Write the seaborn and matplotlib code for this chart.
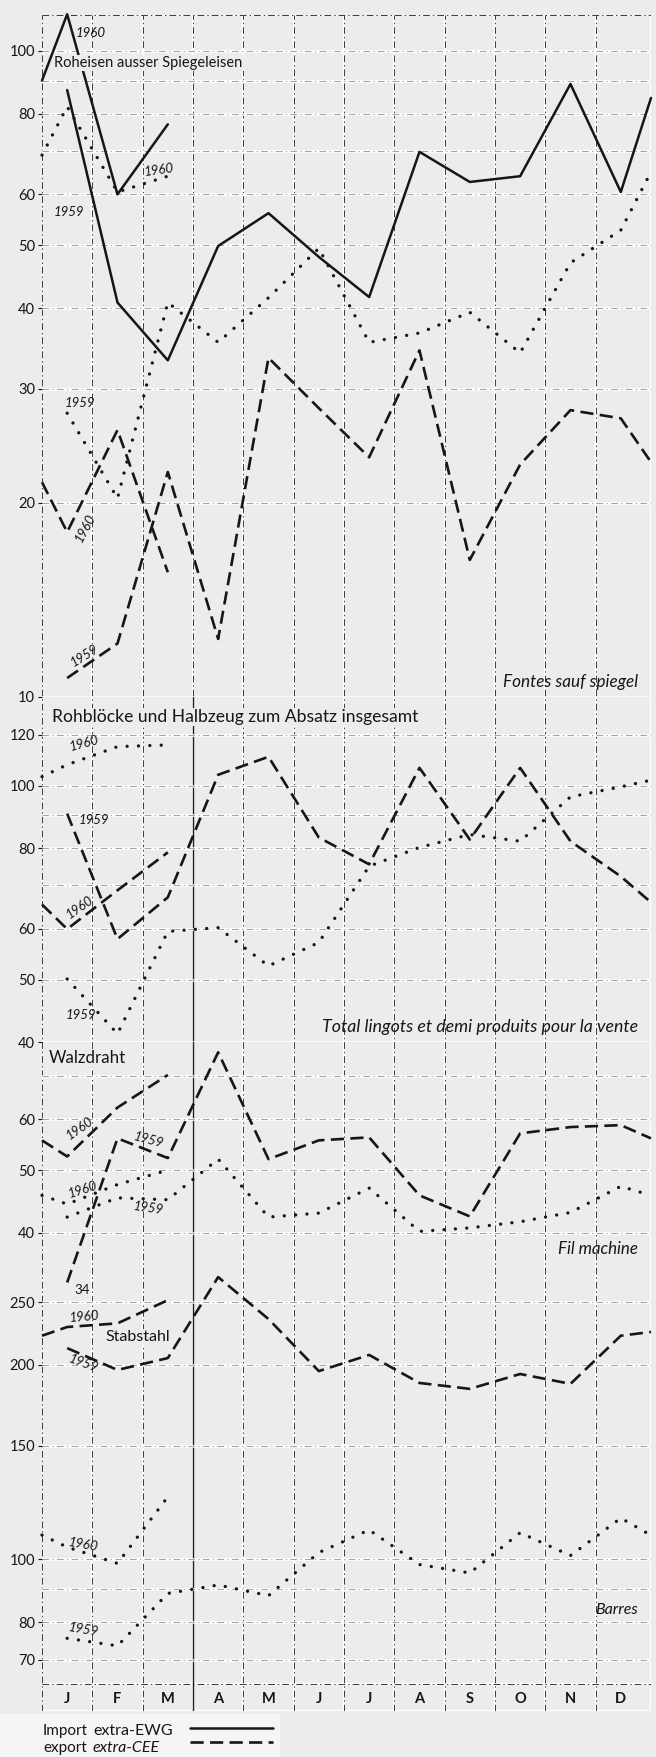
import numpy as np
import pandas as pd
import matplotlib
matplotlib.use("Agg")
import matplotlib.pyplot as plt
import seaborn as sns
from matplotlib.lines import Line2D
from matplotlib.ticker import NullLocator, NullFormatter

# ---------------- data ----------------
months = ["J", "F", "M", "A", "M", "J", "J", "A", "S", "O", "N", "D"]

# Panel 1 : Roheisen ausser Spiegeleisen / Fontes sauf spiegel
roh_solid_1959 = [87, 40.8, 33.2, 49.9, 56.1, 48, 41.6, 69.8, 62.7, 64.0, 88.9, 60.5]
roh_solid_1959_end = 84.6
roh_solid_1960 = [114, 60, 77]
roh_solid_1960_start = 90
roh_dot_1959 = [27.5, 20.3, 40.8, 35.4, 41.5, 49.5, 35.4, 36.6, 39.4, 34.1, 47.0, 52.8]
roh_dot_1959_end = 65
roh_dot_1960 = [82, 60.5, 64]
roh_dot_1960_start = 69
roh_dash_1959 = [10.7, 12.1, 22.3, 12.3, 33.5, 28, 23.5, 34.4, 16.3, 22.9, 27.8, 27.0]
roh_dash_1959_end = 23.1
roh_dash_1960 = [18.0, 25.9, 15.6]
roh_dash_1960_start = 21.5

# Panel 2 : Rohbloecke und Halbzeug
blk_dot_1959 = [50.1, 41.2, 59.4, 60.2, 52.5, 57.1, 75.0, 80.2, 84.0, 82.0, 96.1, 99.6]
blk_dot_1959_end = 102
blk_dot_1960 = [107.8, 115, 115.7]
blk_dot_1960_start = 103.3
blk_dash_1959 = [90.5, 57.8, 67.1, 104, 110.9, 83.1, 75.5, 106.6, 82.5, 106.6, 82.0, 72.3]
blk_dash_1959_end = 65.9
blk_dash_1960 = [59.9, 68.8, 78.8]
blk_dash_1960_start = 65.4

# Panel 3 : Walzdraht / Fil machine
wire_dash_1959 = [33.5, 56.0, 52.2, 76.1, 52.0, 55.6, 56.2, 45.7, 42.4, 57.0, 58.3, 58.7]
wire_dash_1959_end = 56.0
wire_dash_1960 = [52.5, 62.5, 70.2]
wire_dash_1960_start = 55.6
wire_dot_1959 = [42.3, 45.3, 45.0, 52.0, 42.3, 42.9, 46.9, 40.2, 40.7, 41.6, 43.0, 47.2]
wire_dot_1959_end = 45.7
wire_dot_1960 = [44.3, 47.5, 50.0]
wire_dot_1960_start = 45.7

# Panel 4 : Stabstahl / Barres
bar_dash_1959 = [212.4, 196.5, 205, 273.6, 235.6, 195.7, 207.3, 187.6, 183.7, 193.7, 187, 222]
bar_dash_1959_end = 225
bar_dash_1960 = [229, 232, 252]
bar_dash_1960_start = 222
bar_dot_1959 = [75.5, 73.5, 88.6, 91.3, 87.9, 102.5, 111.1, 98.2, 95.3, 110.0, 101.4, 115.9]
bar_dot_1959_end = 109
bar_dot_1960 = [104.5, 98.6, 125]
bar_dot_1960_start = 109.1

p1_ticks = [10, 20, 30, 40, 50, 60, 80, 100]
p2_ticks = [40, 50, 60, 80, 100, 120]
p3_ticks = [40, 50, 60]
p4_ticks = [70, 80, 100, 150, 200, 250]

# ---------------- style ----------------
sns.set_theme(style="white")
plt.rcParams["font.family"] = ["Lato", "DejaVu Sans"]

W, H = 656, 1757
BG = "#ececec"
INK = "#161616"
X0, X1 = 42, 651
DEC = 646.0          # pixels per decade on every log panel
XL = (-0.5, 11.6)
X_START, X_END = XL

fig = plt.figure(figsize=(W / 100, H / 100), dpi=100)
fig.patch.set_facecolor(BG)


def fx(x):
    return x / W


def fy(y):
    return 1 - y / H


# lighter paper area under the chart on the left (scan look)
fig.patches.append(plt.Rectangle((0, 0), fx(280), fy(1714),
                                 transform=fig.transFigure, facecolor="#f5f5f5",
                                 edgecolor="none", zorder=-5))

# background axes for month separators / frame lines
bg = fig.add_axes([fx(X0), fy(1711), (X1 - X0) / W, (1711 - 15) / H], zorder=0)
bg.set_xlim(*XL)
bg.set_ylim(0, 1)
bg.axis("off")
bg.patch.set_alpha(0)


def by(y):
    return (1711 - y) / (1711 - 15)


vlines = [-0.5 + i for i in range(12)] + [X_END]
for xv in vlines:
    bg.axvline(xv, color="white", lw=1.6, zorder=1)
    bg.axvline(xv, color="#3a3a3a", lw=0.7, ls=(0, (7, 3, 1.5, 3)), zorder=2)
# solid separator between the first quarter and the rest
bg.axvline(2.5, ymin=0, ymax=by(697), color="#1e1e1e", lw=1.0, zorder=3)
for yy in [15, 1684, 1711]:
    bg.axhline(by(yy), color="white", lw=1.6, zorder=1)
    bg.axhline(by(yy), color="#3a3a3a", lw=0.7, ls=(0, (7, 3, 1.5, 3)), zorder=2)
for i, m in enumerate(months):
    bg.text(i, by(1699), m, ha="center", va="center",
            fontsize=10.5, fontweight="bold", color=INK)


def make_panel(ytop, ybot, anchor_val, anchor_px, grid, ticks):
    ax = fig.add_axes([fx(X0), fy(ybot), (X1 - X0) / W, (ybot - ytop) / H], zorder=2)
    ax.set_yscale("log")
    lo = anchor_val * 10 ** ((anchor_px - ybot) / DEC)
    hi = anchor_val * 10 ** ((anchor_px - ytop) / DEC)
    ax.set_ylim(lo, hi)
    ax.set_xlim(*XL)
    ax.patch.set_alpha(0)
    for s in ax.spines.values():
        s.set_visible(False)
    ax.set_xticks([])
    for g in grid:
        ax.axhline(g, color="white", lw=1.8, zorder=0.5)
        ax.axhline(g, color="#3a3a3a", lw=0.6, ls=(0, (8, 4, 1.5, 4)), alpha=0.55, zorder=0.6)
    ax.set_yticks(ticks)
    ax.set_yticklabels([str(t) for t in ticks])
    ax.yaxis.set_minor_locator(NullLocator())
    ax.yaxis.set_minor_formatter(NullFormatter())
    ax.tick_params(axis="y", left=True, length=3, width=0.8, pad=2,
                   labelsize=10.5, colors=INK)
    ax.set_ylabel("")
    return ax


STYLES = {
    "solid": dict(linestyle="-", linewidth=1.8),
    "dash": dict(linestyle=(0, (5.0, 2.4)), linewidth=1.9),
    "dot": dict(linestyle=(0, (0.01, 3.4)), linewidth=2.4, dash_capstyle="round"),
}


def draw(ax, vals, kind, start=None, end=None, first=0):
    xs = list(range(first, first + len(vals)))
    ys = list(vals)
    if start is not None:
        xs = [X_START] + xs
        ys = [start] + ys
    if end is not None:
        xs = xs + [X_END]
        ys = ys + [end]
    df = pd.DataFrame({"x": xs, "y": ys})
    sns.lineplot(data=df, x="x", y="y", ax=ax, color=INK, sort=False,
                 estimator=None, clip_on=False, zorder=3, **STYLES[kind])
    ax.set_xlabel("")
    ax.set_ylabel("")


# ---------------- panels ----------------
ax1 = make_panel(15, 697, 10, 697, [10, 20, 30, 40, 50, 60, 70, 80, 90, 100], p1_ticks)
draw(ax1, roh_solid_1959, "solid", end=roh_solid_1959_end)
draw(ax1, roh_solid_1960, "solid", start=roh_solid_1960_start)
draw(ax1, roh_dot_1959, "dot", end=roh_dot_1959_end)
draw(ax1, roh_dot_1960, "dot", start=roh_dot_1960_start)
draw(ax1, roh_dash_1959, "dash", end=roh_dash_1959_end)
draw(ax1, roh_dash_1960, "dash", start=roh_dash_1960_start)

ax2 = make_panel(697, 1042, 100, 786, [40, 50, 60, 70, 80, 90, 100, 120], p2_ticks)
draw(ax2, blk_dot_1959, "dot", end=blk_dot_1959_end)
draw(ax2, blk_dot_1960, "dot", start=blk_dot_1960_start)
draw(ax2, blk_dash_1959, "dash", end=blk_dash_1959_end)
draw(ax2, blk_dash_1960, "dash", start=blk_dash_1960_start)

ax3 = make_panel(1042, 1290, 60, 1119, [40, 50, 60, 70], p3_ticks)
draw(ax3, wire_dot_1959, "dot", end=wire_dot_1959_end)
draw(ax3, wire_dot_1960, "dot", start=wire_dot_1960_start)
draw(ax3, wire_dash_1959, "dash", end=wire_dash_1959_end)
draw(ax3, wire_dash_1960, "dash", start=wire_dash_1960_start)

ax4 = make_panel(1262, 1684, 200, 1365, [70, 80, 90, 100, 150, 200, 250], p4_ticks)
draw(ax4, bar_dot_1959, "dot", end=bar_dot_1959_end)
draw(ax4, bar_dot_1960, "dot", start=bar_dot_1960_start)
draw(ax4, bar_dash_1959, "dash", end=bar_dash_1959_end)
draw(ax4, bar_dash_1960, "dash", start=bar_dash_1960_start)

# ---------------- texts ----------------
def label(x, y, s, size=10.5, style="normal", ha="left", rot=0, box=False):
    kw = {}
    if box:
        kw["bbox"] = dict(facecolor=BG, edgecolor="none", pad=1.0)
    fig.text(fx(x), fy(y), s, ha=ha, va="center", fontsize=size, style=style,
             rotation=rot, color=INK, zorder=10, **kw)


label(54, 63, "Roheisen ausser Spiegeleisen", size=10.5, box=True)
label(638, 682, "Fontes sauf spiegel", style="italic", ha="right", size=12.3)
label(52, 717, "Rohblöcke und Halbzeug zum Absatz insgesamt", size=12.6, box=True)
label(638, 1027, "Total lingots et demi produits pour la vente", style="italic", ha="right", size=12.8)
label(49, 1058, "Walzdraht", size=12.2, box=True)
label(638, 1249, "Fil machine", style="italic", ha="right", size=12.2)
label(105, 1337, "Stabstahl", size=11.5, box=True)
label(638, 1610, "Barres", style="italic", ha="right", size=11.5)

yl = dict(size=9.5, style="italic", ha="center")
label(91, 33, "1960", **yl)
label(69, 212, "1959", **yl)
label(159, 170, "1960", rot=8, **yl)
label(80, 403, "1959", **yl)
label(85, 528, "1960", rot=62, **yl)
label(84, 656, "1959", rot=32, **yl)
label(84, 743, "1960", rot=15, **yl)
label(94, 820, "1959", **yl)
label(80, 907, "1960", rot=35, **yl)
label(81, 1015, "1959", **yl)
label(80, 1128, "1960", rot=35, **yl)
label(148, 1140, "1959", rot=-15, **yl)
label(83, 1190, "1960", rot=18, **yl)
label(148, 1208, "1959", rot=-8, **yl)
label(82, 1290, "34", size=9.5, ha="center")
label(84, 1317, "1960", rot=5, **yl)
label(83, 1363, "1959", rot=-20, **yl)
label(83, 1545, "1960", rot=-10, **yl)
label(83, 1630, "1959", rot=-10, **yl)

# ---------------- legend ----------------
label(43, 1731, "Import", size=11)
label(93, 1731, "extra-EWG", size=11.5)
label(43, 1748, "export", size=11)
label(93, 1748, "extra-CEE", size=11.5, style="italic")
handles = [Line2D([], [], color=INK, **STYLES["solid"]),
           Line2D([], [], color=INK, **STYLES["dash"])]
fig.legend(handles, ["", ""], loc="upper left",
           bbox_to_anchor=(fx(190), fy(1722)), frameon=False,
           handlelength=5.4, fontsize=11, labelspacing=0.02, handletextpad=0,
           borderpad=0, borderaxespad=0)

fig.savefig("out.png", dpi=100, facecolor=BG)
